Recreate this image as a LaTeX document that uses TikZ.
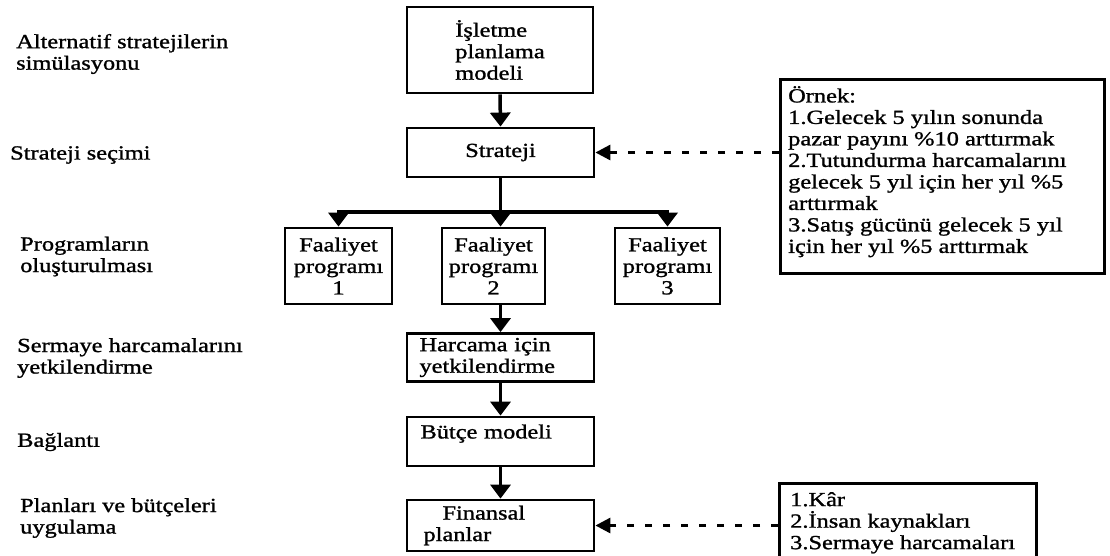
\documentclass[tikz,border=0pt]{standalone}
\usepackage{fontspec}
\setmainfont{Liberation Serif}[FakeStretch=1.22,FakeBold=1.2]
\usetikzlibrary{arrows.meta}

\begin{document}
\begin{tikzpicture}[x=1pt,y=-1pt,
  every node/.style={font=\fontsize{20pt}{21.5pt}\selectfont, inner sep=0pt},
  box/.style={draw, line width=2.8pt, inner sep=0pt},
  lbl/.style={anchor=west, align=left},
  txt/.style={anchor=north west, align=left},
  link/.style={line width=3.5pt},
  arr/.style={line width=3.5pt, -{Triangle[width=20pt,length=14pt]}},
  darr/.style={line width=3pt, dash pattern=on 7pt off 11pt,
               -{Triangle[width=15pt,length=15pt]}}]
\useasboundingbox (0,0) rectangle (1110,555);

% stage labels on the left
\node[lbl] (l1) at (16,54)   {Alternatif stratejilerin\\simülasyonu};
\node[lbl] (l2) at (10,155)  {Strateji seçimi};
\node[lbl] (l3) at (20,256.5){Programların\\oluşturulması};
\node[lbl] (l4) at (17,358)  {Sermaye harcamalarını\\yetkilendirme};
\node[lbl] (l5) at (17,442)  {Bağlantı};
\node[lbl] (l6) at (20,518)  {Planları ve bütçeleri\\uygulama};

% main flow
\node[box, align=left, minimum width=186pt, minimum height=86pt] (plan) at (500,50)
  {İşletme\\planlama\\modeli};
\node[box, minimum width=187pt, minimum height=49pt] (strat) at (500.5,152.5) {Strateji};
\node[box, align=center, minimum width=107pt, minimum height=76pt] (f1) at (338.5,266)
  {Faaliyet\\programı\\1};
\node[box, align=center, minimum width=103pt, minimum height=76pt] (f2) at (493.5,266)
  {Faaliyet\\programı\\2};
\node[box, align=center, minimum width=105pt, minimum height=76pt] (f3) at (667.5,266)
  {Faaliyet\\programı\\3};
\node[box, align=left, text width=162pt, minimum width=187pt, minimum height=48pt] (harc) at (500.5,357.5)
  {Harcama için\\yetkilendirme};
\node[box, text width=160pt, text depth=20pt, minimum width=187pt, minimum height=49pt] (butce) at (500.5,441.5)
  {Bütçe modeli};
\node[box, align=left, text width=154pt, minimum width=187pt, minimum height=51pt] (fin) at (500.5,525.5)
  {\hspace*{19pt}Finansal\\planlar};

% example boxes on the right
\node[box, anchor=north west, minimum width=324pt, minimum height=194pt] (ornek) at (779,78) {};
\node[txt] (ornekt) at (788,86)
  {Örnek:\\1.Gelecek 5 yılın sonunda\\pazar payını \%10 arttırmak\\2.Tutundurma harcamalarını\\gelecek 5 yıl için her yıl \%5\\arttırmak\\3.Satış gücünü gelecek 5 yıl\\için her yıl \%5 arttırmak};
\node[box, anchor=north west, minimum width=257pt, minimum height=90pt] (kb) at (778,482) {};
\node[txt] (kbt) at (790,492)
  {1.Kâr\\2.İnsan kaynakları\\3.Sermaye harcamaları};

% connectors
\coordinate (bj) at (500.5,212);
\draw[arr] (plan.south) -- (strat.north);
\draw[link] (strat.south) -- (bj);
\draw[arr] (bj) -| (f1.north);
\draw[arr] (bj) -| (f3.north);
\draw[arr] (bj) -- (bj |- f2.north);
\draw[arr] (f2.south -| strat.south) -- (harc.north);
\draw[arr] (harc.south) -- (butce.north);
\draw[arr] (butce.south) -- (fin.north);
\draw[darr] (ornek.west |- strat.east) -- (strat.east);
\draw[darr] (kb.west |- fin.east) -- (fin.east);
\end{tikzpicture}
\end{document}
